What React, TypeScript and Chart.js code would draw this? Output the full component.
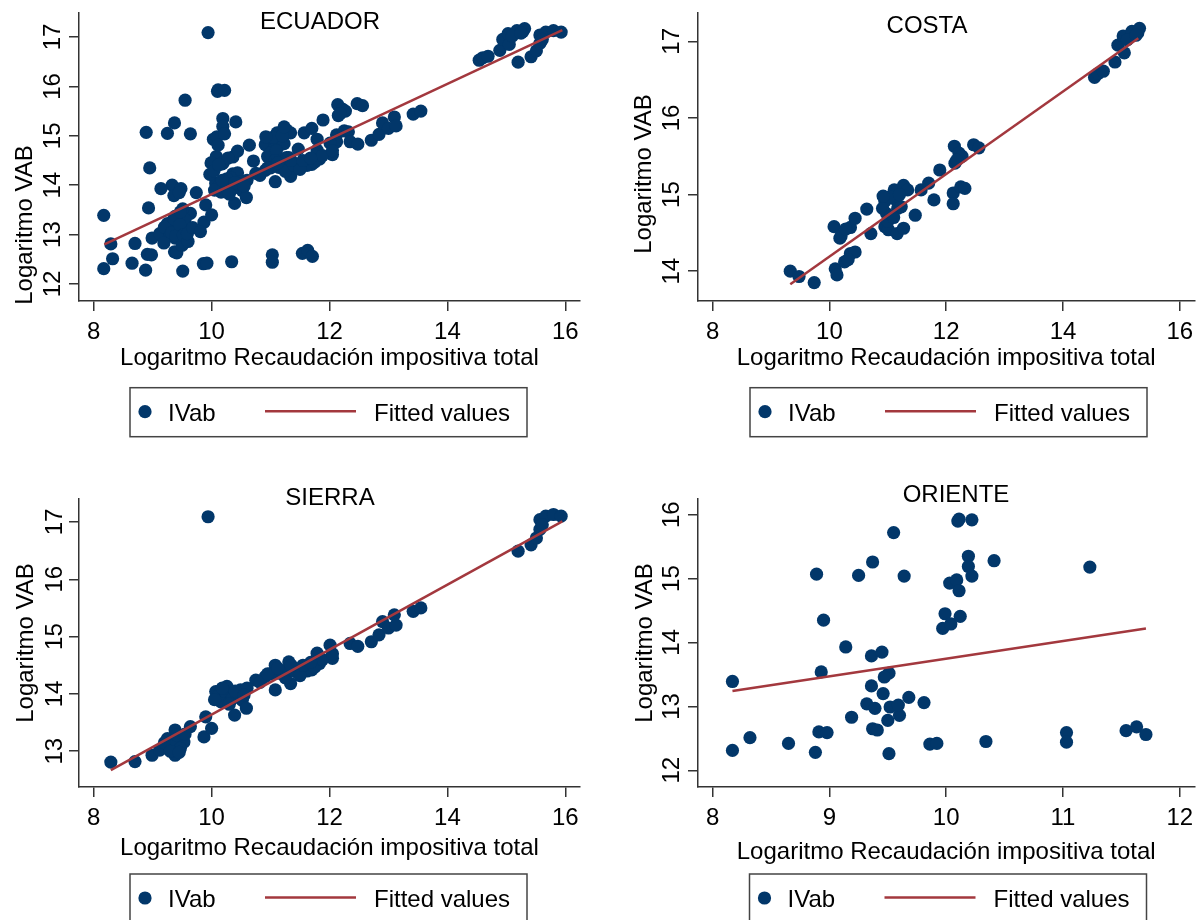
import React, { useEffect, useRef } from 'react';
import { Chart, registerables } from 'chart.js';

Chart.register(...registerables);

const FONT = '"Liberation Sans", Arial, Helvetica, sans-serif';
const NAVY = '#02376a';
const MAROON = '#a3383e';
const AXIS = '#333333';

// ---------- data ----------
const costaPoints: [number, number][] = [
  [9.33, 14.0], [9.48, 13.93], [9.74, 13.85], [10.08, 14.58], [10.18, 14.43], [10.1, 14.03],
  [10.13, 13.95], [10.26, 14.12], [10.36, 14.23], [10.44, 14.25], [10.36, 14.57], [10.44, 14.69],
  [10.64, 14.81], [10.71, 14.49], [10.95, 14.91], [10.98, 14.75], [10.95, 14.58], [11.01, 14.54],
  [11.11, 15.06], [11.14, 14.93], [11.17, 14.82], [11.16, 14.49], [11.27, 14.56], [11.27, 15.12],
  [11.34, 15.06], [11.47, 14.73], [11.57, 15.06], [11.7, 15.15], [11.79, 14.93], [11.89, 15.32],
  [12.14, 15.63], [12.22, 15.54], [12.15, 15.41], [12.12, 15.02], [12.12, 14.88], [12.25, 15.1],
  [12.32, 15.08], [12.47, 15.65], [12.56, 15.61], [14.54, 16.53], [14.6, 16.58], [14.69, 16.61],
  [14.89, 16.73], [14.94, 16.95], [15.03, 17.07], [15.05, 16.85], [15.18, 17.13], [15.28, 17.11],
  [15.31, 17.17], [10.91, 14.82], [11.04, 14.97], [11.23, 14.84], [11.05, 14.72], [10.2, 14.46],
  [12.27, 15.5], [15.1, 17.02], [15.25, 17.08], [10.32, 14.15], [11.0, 14.65], [11.1, 14.7],
  [10.92, 14.98], [11.2, 15.0], [10.28, 14.55], [12.18, 15.45],
];

const sierraPoints: [number, number][] = [
  [9.94, 17.09], [8.29, 12.81], [8.7, 12.82], [8.99, 12.93], [9.12, 13.02], [9.25, 13.22],
  [9.28, 13.08], [9.38, 13.37], [9.38, 12.93], [9.43, 13.16], [9.53, 13.16], [9.64, 13.43],
  [9.87, 13.25], [9.9, 13.6], [10.0, 13.4], [10.07, 14.04], [10.16, 13.86], [10.26, 14.13],
  [10.29, 13.95], [10.39, 13.63], [10.49, 14.07], [10.52, 13.89], [10.59, 13.75], [10.75, 14.24],
  [10.91, 14.3], [11.08, 14.5], [11.08, 14.07], [11.14, 14.36], [11.31, 14.56], [11.34, 14.18],
  [11.47, 14.36], [11.57, 14.45], [11.7, 14.42], [11.79, 14.71], [11.83, 14.53], [12.01, 14.85],
  [12.05, 14.62], [12.35, 14.88], [12.48, 14.83], [12.71, 14.91], [12.84, 15.03], [12.9, 15.26],
  [13.0, 15.15], [13.1, 15.38], [13.13, 15.2], [13.42, 15.44], [13.55, 15.5], [15.2, 16.49],
  [15.42, 16.6], [15.51, 16.72], [15.57, 16.87], [15.57, 17.04], [15.67, 17.1], [15.8, 17.13],
  [15.93, 17.1], [15.61, 16.95], [9.33, 13.12], [9.47, 13.05], [9.41, 13.28], [9.2, 13.15],
  [10.12, 13.98], [10.22, 14.05], [10.35, 13.92], [10.45, 14.02], [10.6, 14.1], [10.82, 14.2],
  [11.0, 14.35], [11.2, 14.4], [11.25, 14.28], [11.4, 14.4], [11.62, 14.4], [11.75, 14.47],
  [11.88, 14.6], [12.05, 14.7], [10.05, 13.9], [10.18, 14.1], [10.4, 14.05], [10.55, 13.98],
  [10.3, 13.82], [10.95, 14.35], [11.12, 14.45], [11.35, 14.5], [11.5, 14.32], [11.55, 14.5],
  [11.68, 14.55], [9.55, 13.3], [9.3, 13.0], [9.45, 12.98],
];

const orientePoints: [number, number][] = [
  [8.17, 13.39], [8.17, 12.31], [8.32, 12.51], [8.65, 12.42], [8.88, 12.28], [8.89, 15.07],
  [8.95, 14.35], [8.93, 13.54], [8.91, 12.6], [8.98, 12.59], [9.14, 13.93], [9.19, 12.83],
  [9.25, 15.05], [9.37, 15.26], [9.36, 13.79], [9.45, 13.85], [9.36, 13.32], [9.32, 13.04],
  [9.37, 12.65], [9.41, 12.63], [9.39, 12.97], [9.46, 13.2], [9.51, 13.52], [9.47, 13.46],
  [9.5, 12.78], [9.51, 12.26], [9.55, 15.72], [9.52, 12.99], [9.6, 12.86], [9.59, 13.02],
  [9.64, 15.04], [9.68, 13.14], [9.81, 13.06], [9.86, 12.41], [9.92, 12.42], [9.97, 14.22],
  [9.99, 14.45], [10.04, 14.29], [10.03, 14.93], [10.09, 14.98], [10.11, 14.81], [10.12, 14.41],
  [10.1, 15.9], [10.11, 15.93], [10.22, 15.92], [10.19, 15.35], [10.19, 15.19], [10.22, 15.04],
  [10.34, 12.45], [10.41, 15.28], [11.03, 12.59], [11.03, 12.44], [11.23, 15.18], [11.54, 12.62],
  [11.63, 12.68], [11.71, 12.56],
];

const ecuadorPoints: [number, number][] = [...costaPoints, ...sierraPoints, ...orientePoints];

const ecuadorFit: [number, number][] = [[8.18, 12.8], [15.95, 17.14]];
const costaFit: [number, number][] = [[9.33, 13.83], [15.29, 17.04]];
const sierraFit: [number, number][] = [[8.29, 12.67], [15.95, 17.01]];
const orienteFit: [number, number][] = [[8.17, 13.24], [11.71, 14.22]];

const xTicksWide = [8, 10, 12, 14, 16];
const xTicksOriente = [8, 9, 10, 11, 12];
const yTicksEcuador = [12, 13, 14, 15, 16, 17];
const yTicksCosta = [14, 15, 16, 17];
const yTicksSierra = [13, 14, 15, 16, 17];
const yTicksOriente = [12, 13, 14, 15, 16];

const panelTitles = ['ECUADOR', 'COSTA', 'SIERRA', 'ORIENTE'];
const X_TITLE = 'Logaritmo Recaudación impositiva total';
const Y_TITLE = 'Logaritmo VAB';
const SERIES_LABELS = ['IVab', 'Fitted values'];

// ---------- layout (page coordinates) ----------
interface PanelCfg {
  title: string;
  points: [number, number][];
  fit: [number, number][];
  xTicks: number[];
  yTicks: number[];
  box: [number, number, number, number];
  area: [number, number, number, number];
  xRange: [number, number];
  yRange: [number, number];
  titleX: number;
  titleBase: number;
  yTitleBase: number;
  yTitleMid: number;
  yTickBase: number;
  xTitleBase: number;
  legend: [number, number];
}

const panels: PanelCfg[] = [
  {
    title: panelTitles[0], points: ecuadorPoints, fit: ecuadorFit, xTicks: xTicksWide, yTicks: yTicksEcuador,
    box: [0, 0, 600, 450], area: [79, 13, 580, 301], xRange: [7.75, 16.25], yRange: [11.655, 17.486],
    titleX: 320, titleBase: 29.3, yTitleBase: 32, yTitleMid: 225, yTickBase: 60, xTitleBase: 366.7, legend: [130, 387.7],
  },
  {
    title: panelTitles[1], points: costaPoints, fit: costaFit, xTicks: xTicksWide, yTicks: yTicksCosta,
    box: [600, 0, 601, 450], area: [698, 13, 1199, 301], xRange: [7.75, 16.25], yRange: [13.61, 17.37],
    titleX: 927, titleBase: 33.3, yTitleBase: 651, yTitleMid: 174, yTickBase: 679, xTitleBase: 366.7, legend: [750, 387.7],
  },
  {
    title: panelTitles[2], points: sierraPoints, fit: sierraFit, xTicks: xTicksWide, yTicks: yTicksSierra,
    box: [0, 450, 600, 470], area: [79, 499, 580, 787], xRange: [7.75, 16.25], yRange: [12.376, 17.4],
    titleX: 330, titleBase: 505, yTitleBase: 32.7, yTitleMid: 643, yTickBase: 61.5, xTitleBase: 857.3, legend: [130, 874],
  },
  {
    title: panelTitles[3], points: orientePoints, fit: orienteFit, xTicks: xTicksOriente, yTicks: yTicksOriente,
    box: [600, 450, 601, 470], area: [698, 499, 1199, 787], xRange: [7.875, 12.125], yRange: [11.738, 16.246],
    titleX: 956, titleBase: 501.7, yTitleBase: 652, yTitleMid: 643, yTickBase: 679, xTitleBase: 861, legend: [749.5, 874],
  },
];

function makeTextPlugin(cfg: PanelCfg) {
  return {
    id: 'panelText',
    afterDraw(chart: any) {
      const ctx: CanvasRenderingContext2D = chart.ctx;
      const ox = cfg.box[0];
      const oy = cfg.box[1];
      ctx.save();
      ctx.font = `24px ${FONT}`;
      ctx.fillStyle = '#000';
      ctx.textAlign = 'center';
      ctx.textBaseline = 'alphabetic';
      ctx.fillText(cfg.title, cfg.titleX - ox, cfg.titleBase - oy);

      const ys = chart.scales.y;
      cfg.yTicks.forEach((v) => {
        const py = ys.getPixelForValue(v);
        ctx.save();
        ctx.translate(cfg.yTickBase - ox, py);
        ctx.rotate(-Math.PI / 2);
        ctx.fillText(String(v), 0, 0);
        ctx.restore();
      });

      ctx.save();
      ctx.translate(cfg.yTitleBase - ox, cfg.yTitleMid - oy);
      ctx.rotate(-Math.PI / 2);
      ctx.fillText(Y_TITLE, 0, 0);
      ctx.restore();

      // legend
      const lx = cfg.legend[0] - ox;
      const ly = cfg.legend[1] - oy;
      ctx.strokeStyle = '#444';
      ctx.lineWidth = 1.5;
      ctx.strokeRect(lx, ly, 397, 49);
      ctx.fillStyle = NAVY;
      ctx.beginPath();
      ctx.arc(lx + 15, ly + 24, 6.6, 0, Math.PI * 2);
      ctx.fill();
      ctx.strokeStyle = MAROON;
      ctx.lineWidth = 2.5;
      ctx.beginPath();
      ctx.moveTo(lx + 135, ly + 23.5);
      ctx.lineTo(lx + 226, ly + 23.5);
      ctx.stroke();
      ctx.fillStyle = '#000';
      ctx.textAlign = 'left';
      ctx.fillText(SERIES_LABELS[0], lx + 38, ly + 33.2);
      ctx.fillText(SERIES_LABELS[1], lx + 244, ly + 33.2);
      ctx.restore();
    },
  };
}

function Panel({ cfg }: { cfg: PanelCfg }) {
  const ref = useRef<HTMLCanvasElement>(null);
  const [bx, by, bw, bh] = cfg.box;
  useEffect(() => {
    const canvas = ref.current;
    if (!canvas) return;
    const [al, at, ar, ab] = cfg.area;
    const top = at - by;
    const right = ar - bx;
    const bottom = ab - by;
    const left = al - bx;
    const xAxisH = cfg.xTitleBase - 8.5 + 14.4 - ab;
    const font = { family: FONT, size: 24 };
    const chart = new Chart(canvas, {
      type: 'scatter',
      data: {
        datasets: [
          {
            label: SERIES_LABELS[1],
            data: cfg.fit.map(([x, y]) => ({ x, y })),
            showLine: true,
            borderColor: MAROON,
            backgroundColor: MAROON,
            borderWidth: 2.5,
            pointRadius: 0,
            pointHoverRadius: 0,
            fill: false,
            order: 0,
          } as any,
          {
            label: SERIES_LABELS[0],
            data: cfg.points.map(([x, y]) => ({ x, y })),
            pointRadius: 6.6,
            pointHoverRadius: 6.6,
            backgroundColor: NAVY,
            borderColor: NAVY,
            borderWidth: 0,
            order: 1,
          } as any,
        ],
      },
      options: {
        responsive: false,
        animation: false,
        events: [],
        layout: { padding: { left: 0, top, right: bw - right, bottom: bh - bottom - xAxisH } },
        plugins: { legend: { display: false }, tooltip: { enabled: false }, title: { display: false } },
        scales: {
          x: {
            type: 'linear',
            position: 'bottom',
            min: cfg.xRange[0],
            max: cfg.xRange[1],
            afterBuildTicks: (s: any) => {
              s.ticks = cfg.xTicks.map((v) => ({ value: v }));
            },
            afterFit: (s: any) => {
              s.height = xAxisH;
              s.paddingLeft = 0;
              s.paddingRight = 0;
              s.paddingTop = 0;
              s.paddingBottom = 0;
            },
            ticks: {
              font,
              color: '#000',
              padding: 6.5,
              maxRotation: 0,
              minRotation: 0,
              autoSkip: false,
              callback: (v: any) => String(v),
            },
            grid: { drawOnChartArea: false, drawTicks: true, tickLength: 10, color: AXIS, lineWidth: 1.5 },
            border: { display: true, color: AXIS, width: 1.5 },
            title: { display: true, text: X_TITLE, font, color: '#000', padding: { top: 0, bottom: 0 } },
          },
          y: {
            type: 'linear',
            position: 'left',
            min: cfg.yRange[0],
            max: cfg.yRange[1],
            afterBuildTicks: (s: any) => {
              s.ticks = cfg.yTicks.map((v) => ({ value: v }));
            },
            afterFit: (s: any) => {
              s.width = left;
              s.paddingLeft = 0;
              s.paddingRight = 0;
              s.paddingTop = 0;
              s.paddingBottom = 0;
            },
            ticks: { display: false },
            grid: { drawOnChartArea: false, drawTicks: true, tickLength: 10, color: AXIS, lineWidth: 1.5 },
            border: { display: true, color: AXIS, width: 1.5 },
            title: { display: false },
          },
        },
      } as any,
      plugins: [makeTextPlugin(cfg)],
    });
    return () => chart.destroy();
  }, [cfg]);
  return (
    <canvas
      ref={ref}
      width={bw}
      height={bh}
      style={{ position: 'absolute', left: bx, top: by, width: bw, height: bh }}
    />
  );
}

export default function App() {
  return (
    <div style={{ position: 'absolute', left: 0, top: 0, width: 1201, height: 920, background: '#fff', overflow: 'hidden' }}>
      {panels.map((p) => (
        <Panel key={p.title} cfg={p} />
      ))}
    </div>
  );
}
